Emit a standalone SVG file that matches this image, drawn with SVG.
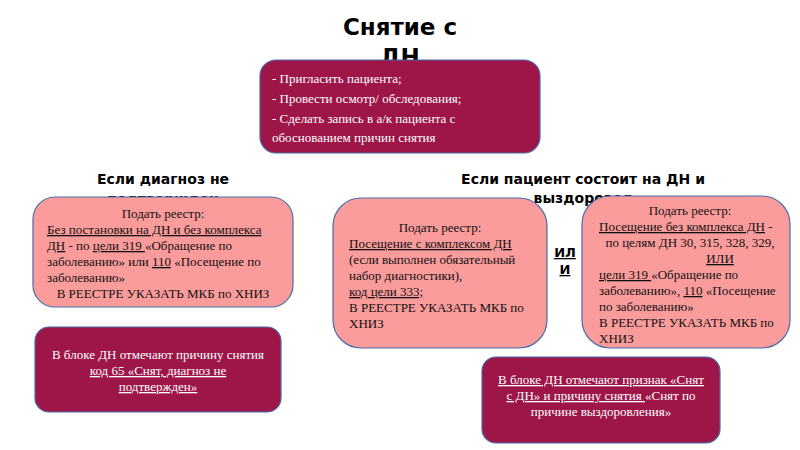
<svg xmlns="http://www.w3.org/2000/svg" width="800" height="450" viewBox="0 0 800 450">
<style>
.h{font-family:"DejaVu Sans",sans-serif;font-weight:bold;fill:#000}
.t{font-family:"Liberation Serif",serif;font-size:13px;fill:#111}
.w{font-family:"Liberation Serif",serif;font-size:13px;fill:#fff}
.pink{fill:#fb9c9c;stroke:#4a6aa8;stroke-width:1.2}
.dark{fill:#9e1548;stroke:#4a6aa8;stroke-width:1.2}
.u{text-decoration:underline}
</style>
<rect width="800" height="450" fill="#fff"/>
<text class="h" x="400" y="35" font-size="23" text-anchor="middle">Снятие с</text>
<text class="h" x="400" y="65" font-size="23" text-anchor="middle">ДН</text>
<text class="h" x="163" y="184" font-size="14" text-anchor="middle">Если диагноз не</text>
<text class="h" x="163" y="204" font-size="14" text-anchor="middle">подтвержден</text>
<text class="h" x="583" y="184" font-size="14" text-anchor="middle">Если пациент состоит на ДН и</text>
<text class="h" x="583" y="203" font-size="14" text-anchor="middle">выздоровел</text>
<g id="top">
<rect class="dark" x="260" y="60" width="280" height="93" rx="16"/>
<text class="w" font-size="14" x="272" y="83">- Пригласить пациента;</text>
<text class="w" font-size="14" x="272" y="103">- Провести осмотр/ обследования;</text>
<text class="w" font-size="14" x="272" y="123">- Сделать запись в а/к пациента с</text>
<text class="w" font-size="14" x="272" y="142">обоснованием причин снятия</text>
</g>
<g id="boxA">
<rect class="pink" x="33" y="197" width="260" height="110" rx="22"/>
<text class="t" x="163" y="218" text-anchor="middle">Подать реестр:</text>
<text class="t" x="47" y="234"><tspan class="u">Без постановки на ДН и без комплекса</tspan></text>
<text class="t" x="47" y="250"><tspan class="u">ДН</tspan>  - по <tspan class="u">цели 319 </tspan>«Обращение по</text>
<text class="t" x="47" y="266">заболеванию» или <tspan class="u">110</tspan> «Посещение по</text>
<text class="t" x="47" y="282">заболеванию»</text>
<text class="t" x="163" y="298" text-anchor="middle">В РЕЕСТРЕ УКАЗАТЬ МКБ по ХНИЗ</text>
</g>
<g id="darkA">
<rect class="dark" x="35" y="327" width="246" height="85" rx="14"/>
<text class="w" x="158" y="359" text-anchor="middle">В  блоке ДН отмечают причину снятия</text>
<text class="w u" x="158" y="375" text-anchor="middle"> код 65 «Снят, диагноз не</text>
<text class="w u" x="158" y="391" text-anchor="middle">подтвержден» </text>
</g>
<g id="boxB">
<rect class="pink" x="333" y="198" width="214" height="150" rx="28"/>
<text class="t" x="440" y="232" text-anchor="middle">Подать реестр:</text>
<text class="t u" x="349" y="248">Посещение с комплексом ДН</text>
<text class="t" x="349" y="264">(если выполнен обязательный</text>
<text class="t" x="349" y="280">набор диагностики),</text>
<text class="t u" x="349" y="296">код цели 333;</text>
<text class="t" x="349" y="312">В РЕЕСТРЕ УКАЗАТЬ МКБ по</text>
<text class="t" x="349" y="328">ХНИЗ</text>
</g>
<g id="ili">
<text class="h u" x="565" y="257" font-size="13" text-anchor="middle">ИЛ</text>
<text class="h u" x="565" y="274" font-size="13" text-anchor="middle">И</text>
</g>
<g id="boxC">
<rect class="pink" x="582" y="196" width="208" height="152" rx="28"/>
<text class="t" x="690" y="215" text-anchor="middle">Подать реестр:</text>
<text class="t" x="599" y="231"><tspan class="u">Посещение без комплекса ДН</tspan>  -</text>
<text class="t" x="690" y="247" text-anchor="middle">по целям ДН 30, 315, 328, 329,</text>
<text class="t u" x="720" y="263" text-anchor="middle">ИЛИ </text>
<text class="t" x="599" y="279"><tspan class="u">цели 319 </tspan>«Обращение по</text>
<text class="t" x="599" y="295">заболеванию», <tspan class="u">110</tspan> «Посещение</text>
<text class="t" x="599" y="311">по заболеванию»</text>
<text class="t" x="599" y="327">В РЕЕСТРЕ УКАЗАТЬ МКБ по</text>
<text class="t" x="599" y="343">ХНИЗ</text>
</g>
<g id="darkC">
<rect class="dark" x="482" y="357" width="238" height="86" rx="14"/>
<text class="w" x="601" y="384" text-anchor="middle"><tspan class="u">В  блоке ДН отмечают признак «Снят</tspan></text>
<text class="w" x="601" y="400" text-anchor="middle"><tspan class="u">с ДН» и причину снятия </tspan>«Снят по</text>
<text class="w" x="601" y="416" text-anchor="middle">причине выздоровления»</text>
</g>
<g id="connectors"/>
</svg>
